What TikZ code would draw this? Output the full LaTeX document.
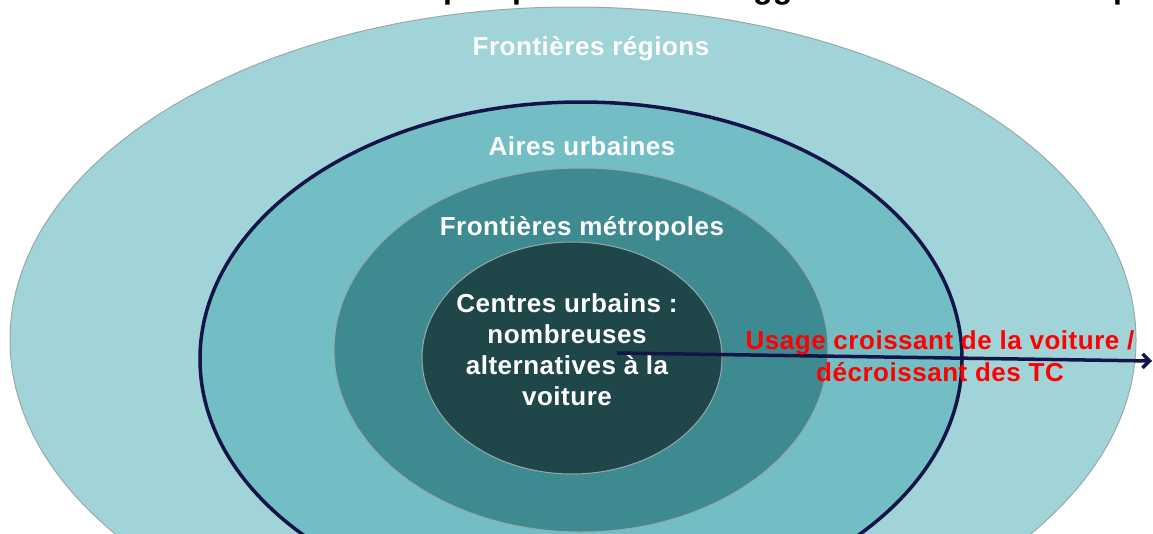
\documentclass[tikz,border=0pt]{standalone}
\usepackage{fontspec}
\setmainfont{Liberation Sans}[LetterSpace=2]
\newfontfamily\titlefont{Liberation Sans}
\usetikzlibrary{shapes.geometric,arrows.meta}
\definecolor{ringA}{HTML}{A0D4D8}
\definecolor{ringB}{HTML}{72BEC4}
\definecolor{ringC}{HTML}{3D8A90}
\definecolor{ringD}{HTML}{1F4749}
\definecolor{navy}{HTML}{14144A}
\definecolor{edgegray}{HTML}{9AA8AA}
\definecolor{redtxt}{HTML}{FF0000}
\tikzset{
  ring/.style={ellipse, inner sep=0pt, draw=edgegray, line width=1pt},
  lab/.style={text=white, font=\fontsize{26}{31}\selectfont\bfseries, align=center, anchor=base},
  redlab/.style={text=redtxt, font=\fontsize{26}{32}\selectfont\bfseries, align=center},
  frag/.style={text=black, font=\fontsize{32}{32}\titlefont\bfseries, anchor=base west, inner sep=0pt}
}
\begin{document}
\begin{tikzpicture}[x=1pt,y=-1pt]
\useasboundingbox (0,0) rectangle (1153,533);
\clip (0,0) rectangle (1153,533);
% title fragments (cut off at the top)
\node[frag] (t1) at (443,-1.7) {p};
\node[frag] (t2) at (512,-1.7) {p};
\node[frag] (t3) at (753,-1.7) {gg};
\node[frag] (t4) at (1113,-1.7) {p};
% rings
\node[ring, fill=ringA, minimum width=1126pt, minimum height=666pt] (regions) at (573,340) {};
\node[ring, fill=ringB, draw=navy, line width=3.5pt, minimum width=762pt, minimum height=514pt] (aires) at (581,359) {};
\node[ring, fill=ringC, minimum width=494pt, minimum height=364pt] (metro) at (581,350) {};
\node[ring, fill=ringD, minimum width=300pt, minimum height=232pt] (centre) at (572,358) {};
% labels
\node[lab] (lregions) at (591,55) {Frontières régions};
\node[lab] (laires) at (582,155) {Aires urbaines};
\node[lab] (lmetro) at (582,235) {Frontières métropoles};
\node[lab, anchor=north] (lcentre) at (567,290) {Centres urbains :\\nombreuses\\alternatives à la\\voiture};
% arrow
\coordinate (astart) at (617,353);
\coordinate (aend) at (1152,361);
\draw[navy, line width=3.5pt, -{Straight Barb[length=7pt,width=14pt]}] (astart) -- (aend);
\node[redlab] (usage) at (940,356) {Usage croissant de la voiture /\\décroissant des TC};
\end{tikzpicture}
\end{document}
